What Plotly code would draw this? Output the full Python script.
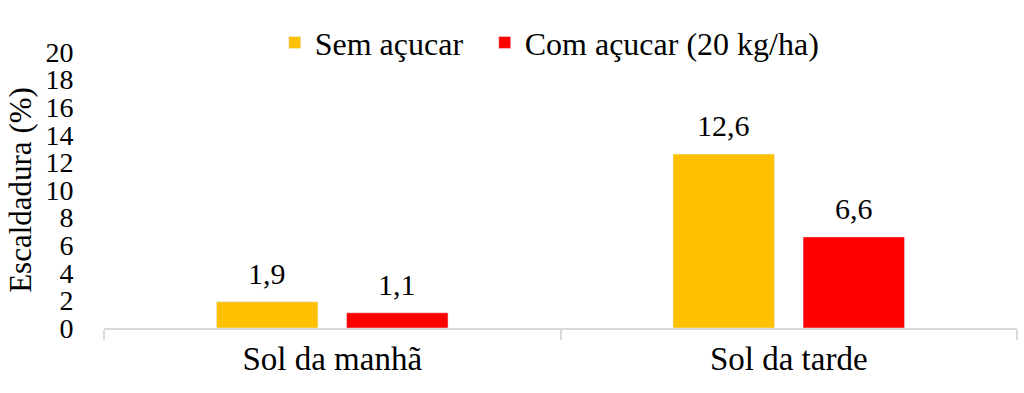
import plotly.graph_objects as go

categories = ["Sol da manhã", "Sol da tarde"]
sem_acucar = [1.9, 12.6]
com_acucar = [1.1, 6.6]
series_names = ["Sem açucar", "Com açucar (20 kg/ha)"]
y_ticks = list(range(0, 21, 2))

FONT = "Liberation Serif"
COLORS = ["#FFC000", "#FF0000"]
LEGENDS = ["legend", "legend2"]

fig = go.Figure()
for name, vals, col, lg in zip(series_names, [sem_acucar, com_acucar], COLORS, LEGENDS):
    fig.add_trace(go.Bar(x=categories, y=vals, name=name, marker_color=col,
                         legend=lg, showlegend=True))

# value labels above bars
for vals, dx in [(sem_acucar, -65), (com_acucar, 65)]:
    for c, v in zip(categories, vals):
        fig.add_annotation(x=c, y=v, text=f"{v:.1f}".replace(".", ","),
                           showarrow=False, xshift=dx, yshift=10, yanchor="bottom",
                           font=dict(family=FONT, size=30, color="black"))

leg_common = dict(orientation="h", yanchor="middle", y=1.034, xanchor="left",
                  font=dict(family=FONT, size=32), bgcolor="rgba(0,0,0,0)")

fig.update_layout(
    width=1024, height=393,
    showlegend=True,
    margin=dict(l=104, r=7, t=52, b=65, autoexpand=False),
    plot_bgcolor="white", paper_bgcolor="white",
    barmode="group", bargap=0.43, bargroupgap=0.22,
    font=dict(family=FONT, size=29, color="black"),
    legend=dict(x=0.187, **leg_common),
    legend2=dict(x=0.417, **leg_common),
    xaxis=dict(showline=True, linecolor="#D9D9D9", linewidth=2,
               ticks="outside", tickson="boundaries", ticklen=10,
               tickcolor="#D9D9D9", tickwidth=2,
               tickfont=dict(family=FONT, size=33), range=[-0.5, 1.5]),
    yaxis=dict(range=[0, 20], tickvals=y_ticks, showgrid=False, showline=False,
               zeroline=False, ticks="outside", ticklen=24,
               tickcolor="rgba(0,0,0,0)", tickfont=dict(family=FONT, size=28),
               title=dict(text="Escaldadura (%)", font=dict(family=FONT, size=31), standoff=4)),
)

fig.write_html("out.html", post_script="document.body.style.margin='0';",
               config={"displayModeBar": False})
